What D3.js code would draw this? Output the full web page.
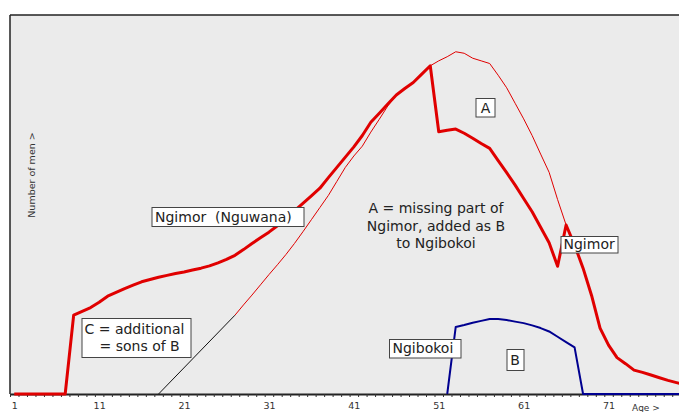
<!DOCTYPE html>
<html><head><meta charset="utf-8">
<script src="https://cdn.jsdelivr.net/npm/d3@7"></script>
<style>
body{margin:0;background:#fff;}
svg{display:block;font-family:"DejaVu Sans",Verdana,sans-serif;}
</style>
</head><body><svg id="c" width="679" height="412"></svg>
<script>
// ---------- data ----------
const ages = d3.range(1, 81);
// Ngimor (Nguwana) – thick red, ages 1..80
const ngimor = [0,0,0,0,0,0,0,20.8,21.8,22.8,
  24.2,25.8,26.8,27.8,28.7,29.6,30.2,30.8,31.3,31.8,
  32.2,32.7,33.2,33.8,34.6,35.5,36.6,38.1,39.7,41.2,
  42.7,44.4,46.3,48.3,50.3,52.3,54.3,57.1,59.8,62.5,
  65.2,68.2,71.7,74.1,76.5,78.9,80.6,82.2,84.4,86.6,
  69.2,69.6,69.9,68.8,67.5,66.1,64.8,61.6,58.4,55.1,
  51.6,48.1,44.0,39.9,33.7,44.6,39.3,33.2,26.0,17.4,
  12.9,9.6,8.0,6.3,5.7,5.0,4.3,3.6,3.0,2.4];
// Ngimor incl. missing part A – thin red, ages 27..66
const fullAges = d3.range(27, 67);
const ngimorFull = [20.8,23.5,26.1,28.8,31.5,34.1,36.8,39.7,42.8,46.0,
  49.2,52.4,56.1,59.8,62.8,65.4,69.1,72.5,76.0,78.8,
  80.4,82.1,84.3,86.6,87.9,89.0,90.3,89.9,88.6,87.9,
  87.2,84.1,80.8,76.7,72.6,68.2,63.3,58.5,51.3,44.6];
// Ngibokoi – blue, ages 52..80
const ngibokoiAges = d3.range(52, 81);
const ngibokoi = [0,17.7,18.2,18.8,19.3,19.8,19.8,19.5,19.1,18.7,
  18.1,17.4,16.5,15.1,13.7,12.3,0,0,0,0,
  0,0,0,0,0,0,0,0,0];
// C = additional sons of B – black line
const sonsAges = [18, 27];
const sons = [0, 20.8];
const tickLabels = [1, 11, 21, 31, 41, 51, 61, 71];

// ---------- layout ----------
const svg = d3.select('#c');
const x = d3.scaleLinear().domain([0.5, 80.5]).range([10, 10 + 80 * 8.49]);
const y = d3.scaleLinear().domain([0, 100]).range([394, 15]);

svg.append('rect').attr('x', x(0.5)).attr('y', y(100))
  .attr('width', x(80.5) - x(0.5)).attr('height', y(0) - y(100))
  .attr('fill', '#ebebeb');

// frame lines
svg.append('line').attr('x1', x(0.5)).attr('x2', x(80.5)).attr('y1', y(100)).attr('y2', y(100))
  .attr('stroke', '#222').attr('stroke-width', 1.5);
svg.append('line').attr('x1', x(0.5)).attr('x2', x(0.5)).attr('y1', y(100)).attr('y2', y(0))
  .attr('stroke', '#222').attr('stroke-width', 1.5);

// x axis: minor ticks between categories
const gAx = svg.append('g').attr('transform', `translate(0,${y(0)})`)
  .call(d3.axisBottom(x).tickValues(d3.range(0.5, 81, 1)).tickSize(3).tickFormat('').tickSizeOuter(0));
gAx.select('.domain').attr('stroke', '#222').attr('stroke-width', 2);
gAx.selectAll('.tick line').attr('stroke', '#333');
const gLab = svg.append('g').attr('transform', `translate(0,${y(0)})`)
  .call(d3.axisBottom(x).tickValues(tickLabels).tickSize(0).tickFormat(d3.format('d')));
gLab.select('.domain').remove();
gLab.selectAll('text').attr('y', 14.5).attr('dy', 0)
  .attr('font-size', 9.5).attr('font-family', '"DejaVu Sans",Verdana,sans-serif').attr('fill', '#333');

svg.append('text').attr('x', 632).attr('y', 410.5).attr('font-size', 9).attr('fill', '#333').text('Age >');
svg.append('text').attr('transform', 'translate(34.5,175) rotate(-90)')
  .attr('text-anchor', 'middle').attr('font-size', 9.5).attr('fill', '#333').text('Number of men >');

// ---------- lines ----------
const line = d3.line().x(d => x(d[0])).y(d => y(d[1]));
svg.append('path').datum(d3.zip(sonsAges, sons)).attr('d', line)
  .attr('fill', 'none').attr('stroke', '#111').attr('stroke-width', 1);
svg.append('path').datum(d3.zip(fullAges, ngimorFull)).attr('d', line)
  .attr('fill', 'none').attr('stroke', '#e00000').attr('stroke-width', 1);
svg.append('path').datum(d3.zip(ngibokoiAges, ngibokoi)).attr('d', line)
  .attr('fill', 'none').attr('stroke', '#000090').attr('stroke-width', 2).attr('stroke-linejoin', 'round');
svg.append('path').datum(d3.zip(ages, ngimor)).attr('d', line)
  .attr('fill', 'none').attr('stroke', '#e00000').attr('stroke-width', 3).attr('stroke-linejoin', 'round');

// ---------- annotations ----------
function box(bx, by, bw, bh, lines) {
  const g = svg.append('g');
  g.append('rect').attr('x', bx + 0.5).attr('y', by + 0.5).attr('width', bw).attr('height', bh)
    .attr('fill', '#fff').attr('stroke', '#444').attr('stroke-width', 1);
  lines.forEach(l => {
    g.append('text').attr('x', l.x).attr('y', l.y).attr('font-size', 14)
      .attr('text-anchor', l.anchor || 'start').attr('fill', '#222')
      .attr('xml:space', 'preserve').style('white-space', 'pre').text(l.t);
  });
}
box(151.5, 207, 152, 19, [{t: 'Ngimor  (Nguwana)', x: 155, y: 221.5}]);
box(475.5, 98, 19, 18.5, [{t: 'A', x: 485.5, y: 112.5, anchor: 'middle'}]);
box(506.5, 349, 17, 21, [{t: 'B', x: 515, y: 365, anchor: 'middle'}]);
box(389, 339, 71.5, 18.5, [{t: 'Ngibokoi', x: 392.5, y: 352.5}]);
box(560.5, 236, 57, 16.5, [{t: 'Ngimor', x: 563.5, y: 248.5}]);
box(81.5, 318, 109, 39, [{t: 'C = additional', x: 84.5, y: 334}, {t: '= sons of B', x: 99.5, y: 351}]);

const noteLines = ['A = missing part of', 'Ngimor, added as B', 'to Ngibokoi'];
noteLines.forEach((t, i) => {
  svg.append('text').attr('x', 436).attr('y', 213 + i * 17.5).attr('text-anchor', 'middle')
    .attr('font-size', 14).attr('fill', '#222').text(t);
});
</script>
</body></html>
